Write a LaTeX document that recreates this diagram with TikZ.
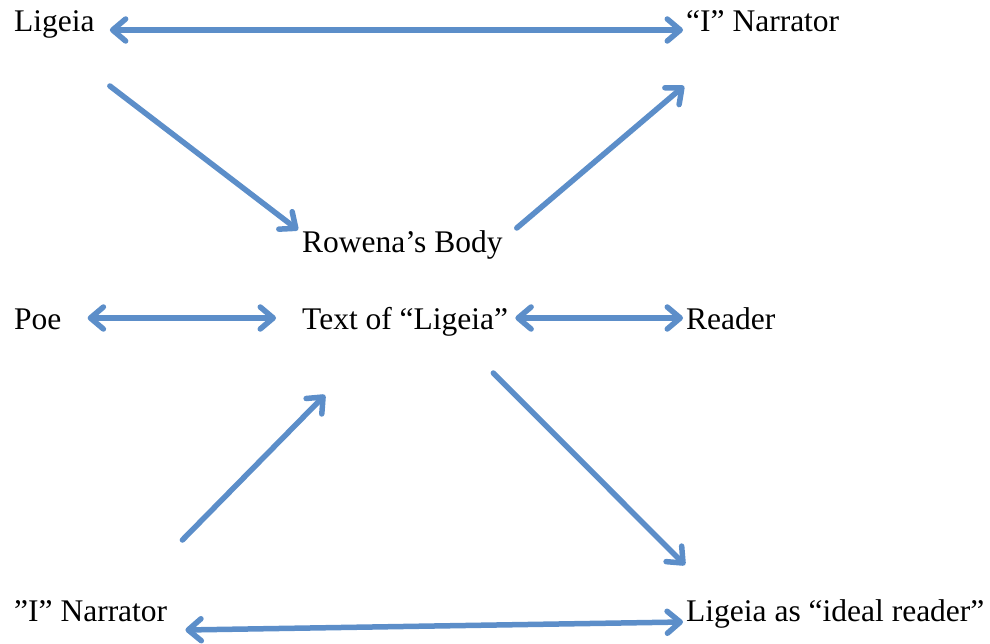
\documentclass[tikz,border=0pt]{standalone}
\usepackage{fontspec}
\setmainfont{Liberation Serif}
\usetikzlibrary{arrows.meta}
\definecolor{linkblue}{RGB}{92,142,201}
\tikzset{
    lbl/.style={anchor=base west,inner sep=0pt,font=\fontsize{31.5}{36}\selectfont},
    link/.style={linkblue,line width=5.5pt,line cap=round,
        arrows={-Straight Barb[length=13pt,width=22pt,round]}},
    blink/.style={link,arrows={Straight Barb[length=13pt,width=22pt,round]-Straight Barb[length=13pt,width=22pt,round]}}
}
\begin{document}
\begin{tikzpicture}[x=1pt,y=-1pt]
    \useasboundingbox (0,0) rectangle (990,644);
    % Obere Zeile und Körper Rowenas
    \node[lbl] (lig) at (14,32) {Ligeia};
    \node[lbl] (nar) at (686,32) {“I” Narrator};
    \node[lbl] (row) at (302,253) {Rowena’s Body};
    % Mittlere Zeile
    \node[lbl] (poe) at (14,329) {Poe};
    \node[lbl] (txt) at (302,329) {Text of “Ligeia”};
    \node[lbl] (rdr) at (686,329) {Reader};
    % Untere Zeile
    \node[lbl] (narb) at (14,621) {”I” Narrator};
    \node[lbl] (ide) at (686,621) {Ligeia as “ideal reader”};
    % Verbindungen
    \draw[blink] ([shift={(15pt,2pt)}]lig.base east) -- ([shift={(-3pt,2pt)}]nar.base west);
    \draw[link] ([shift={(15pt,-54pt)}]lig.base east) -- ([shift={(-4pt,23pt)}]row.base west);
    \draw[link] ([shift={(14pt,25pt)}]row.base east) -- ([shift={(-2pt,-54pt)}]nar.base west);
    \draw[blink] ([shift={(26pt,11pt)}]poe.base east) -- ([shift={(-26pt,11pt)}]txt.base west);
    \draw[blink] ([shift={(7pt,11pt)}]txt.base east) -- ([shift={(-3pt,11pt)}]rdr.base west);
    \draw[link] ([shift={(15pt,81pt)}]narb.base east) -- ([shift={(23pt,-66pt)}]txt.base west);
    \draw[link] ([shift={(-15pt,-44pt)}]txt.base east) -- ([shift={(-1pt,56pt)}]ide.base west);
    \draw[blink] ([shift={(18pt,-9pt)}]narb.base east) -- ([shift={(-3pt,-1pt)}]ide.base west);
\end{tikzpicture}
\end{document}
